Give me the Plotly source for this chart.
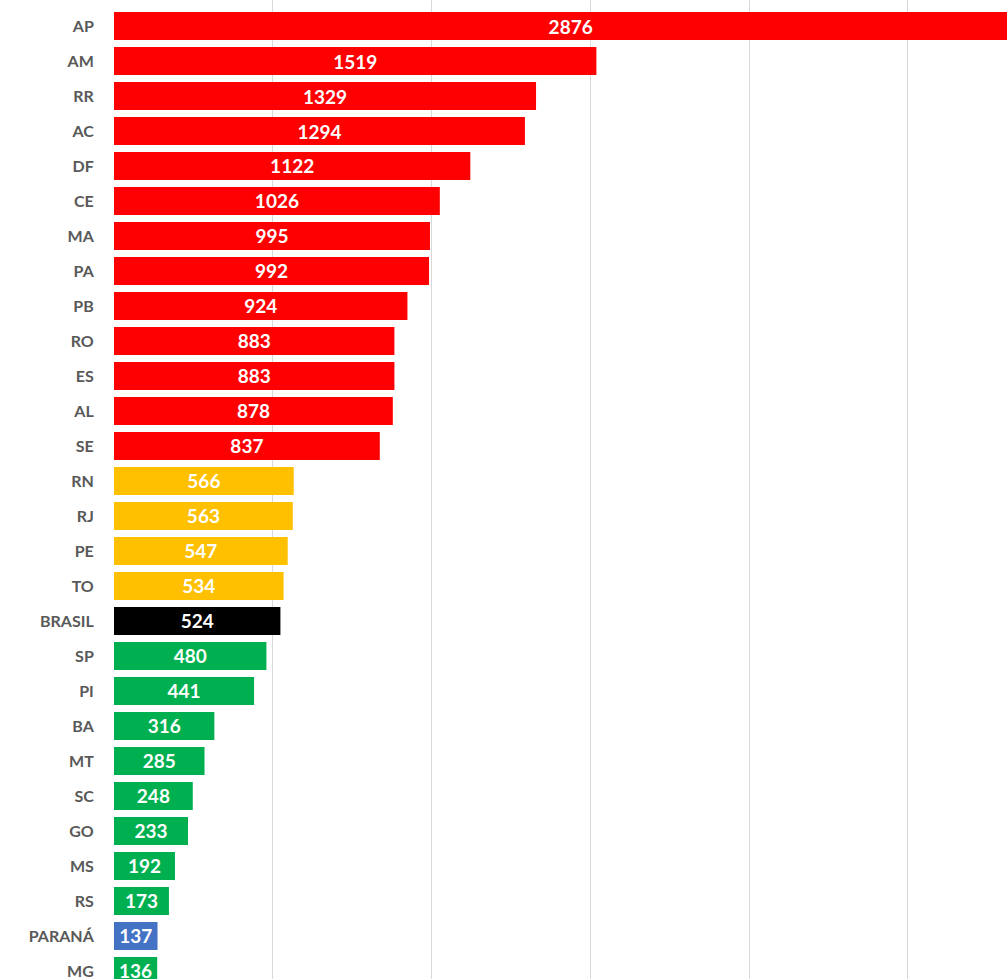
import plotly.graph_objects as go

states = ["AP", "AM", "RR", "AC", "DF", "CE", "MA", "PA", "PB", "RO", "ES", "AL", "SE",
          "RN", "RJ", "PE", "TO", "BRASIL", "SP", "PI", "BA", "MT", "SC", "GO", "MS", "RS",
          "PARANÁ", "MG"]
values = [2876, 1519, 1329, 1294, 1122, 1026, 995, 992, 924, 883, 883, 878, 837,
          566, 563, 547, 534, 524, 480, 441, 316, 285, 248, 233, 192, 173, 137, 136]
groups = ["red"] * 13 + ["yellow"] * 4 + ["black"] + ["green"] * 8 + ["blue"] + ["green"]

palette = {"red": "#FF0000", "yellow": "#FFC000", "black": "#000000",
           "green": "#00B050", "blue": "#4472C4"}
colors = [palette[g] for g in groups]

fig = go.Figure(go.Bar(
    x=values, y=states, orientation="h",
    marker=dict(color=colors, line=dict(width=0)),
    text=[str(v) for v in values], textposition="inside", insidetextanchor="middle",
    textfont=dict(family="Lato", size=19, color="white", weight="bold"),
    constraintext="none", cliponaxis=True,
))

fig.update_layout(
    width=1007, height=979,
    margin=dict(l=114, r=0, t=0, b=0),
    plot_bgcolor="white", paper_bgcolor="white",
    bargap=0.2, showlegend=False,
    xaxis=dict(range=[0, 2812], dtick=500, showgrid=True, gridcolor="#D9D9D9",
               gridwidth=1, showticklabels=False, zeroline=False, showline=False),
    yaxis=dict(type="category", range=[27.23, -0.743], showgrid=False,
               tickfont=dict(family="Lato", size=16, color="#595959", weight="bold"),
               ticks="outside", ticklen=16, tickcolor="rgba(0,0,0,0)", showline=False),
)

fig.write_html("out.html", config={"displayModeBar": False},
               post_script="document.body.style.margin='0';document.body.style.overflow='hidden';")
